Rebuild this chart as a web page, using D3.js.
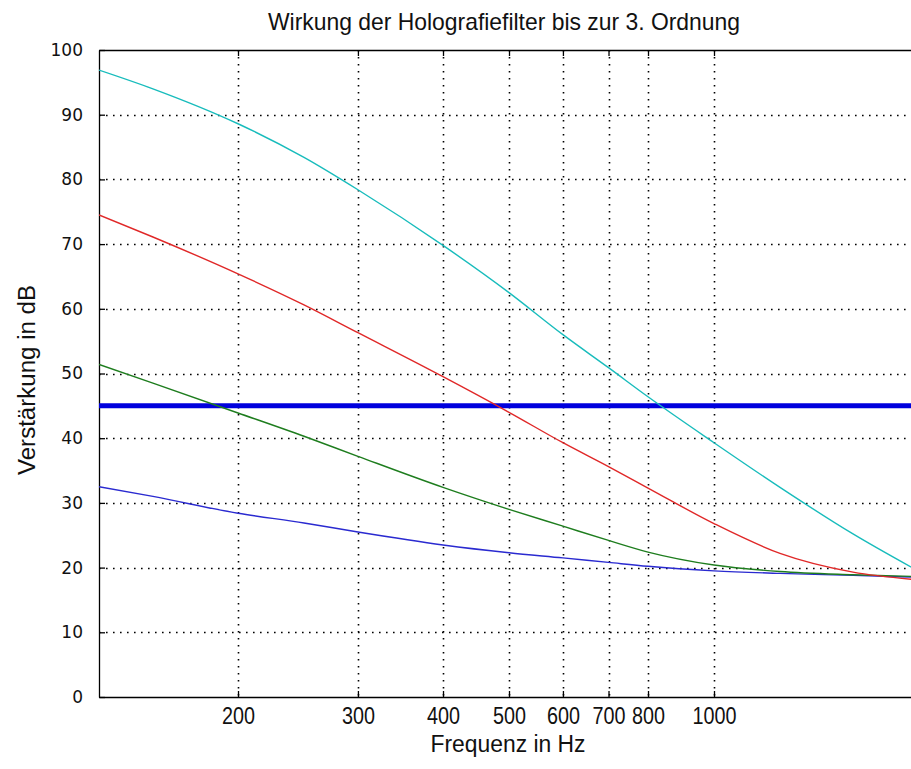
<!DOCTYPE html>
<html><head><meta charset="utf-8">
<script src="https://cdn.jsdelivr.net/npm/d3@7"></script>
<style>body{margin:0;background:#fff}</style>
</head><body>
<svg id="chart" width="911" height="769"></svg>
<script>
const titleText = "Wirkung der Holografiefilter bis zur 3. Ordnung";
const xLabel = "Frequenz in Hz";
const yLabel = "Verstärkung in dB";
const freqs = [125, 150, 200, 250, 300, 400, 500, 600, 700, 800, 1000, 1250, 1600, 2000];
const cyanVals  = [96.9, 94.0, 88.6, 83.4, 78.4, 69.8, 62.5, 56.0, 50.9, 46.4, 39.3, 32.4, 25.2, 19.4];
const redVals   = [74.5, 71.1, 65.4, 60.6, 56.3, 49.5, 44.0, 39.3, 35.6, 32.3, 26.8, 22.2, 19.3, 18.1];
const greenVals = [51.4, 48.5, 43.9, 40.3, 37.2, 32.4, 29.0, 26.4, 24.2, 22.4, 20.4, 19.4, 18.9, 18.6];
const blueVals  = [32.5, 31.0, 28.4, 26.9, 25.5, 23.5, 22.3, 21.5, 20.8, 20.2, 19.5, 19.1, 18.8, 18.5];
const thresholdValue = 45;
const xTicks = [200, 300, 400, 500, 600, 700, 800, 1000, 2000];
const xTickLabels = ["200", "300", "400", "500", "600", "700", "800", "1000", "2000"];
const yTicks = [0, 10, 20, 30, 40, 50, 60, 70, 80, 90, 100];
const xDomain = [125, 2000];
const yDomain = [0, 100];

const svg = d3.select("#chart");
const pL = 99, pR = 919, pT = 50, pB = 697;
const x = d3.scaleLog().domain(xDomain).range([pL, pR]);
const y = d3.scaleLinear().domain(yDomain).range([pB, pT]);

svg.append("defs").append("clipPath").attr("id","clip")
  .append("rect").attr("x", pL).attr("y", pT).attr("width", pR-pL).attr("height", pB-pT);

// grid
const grid = svg.append("g").attr("stroke", "#000").attr("stroke-width", 1.6)
  .attr("stroke-dasharray", "1.6,5.4").attr("clip-path","url(#clip)");
xTicks.forEach(t => grid.append("line").attr("x1", Math.round(x(t))+0.5).attr("x2", Math.round(x(t))+0.5)
  .attr("y1", pT).attr("y2", pB));
yTicks.filter(t => t>0 && t<100).forEach(t => grid.append("line").attr("y1", Math.round(y(t))+0.5).attr("y2", Math.round(y(t))+0.5)
  .attr("x1", pL).attr("x2", pR));

// axes with inward ticks
const axB = d3.axisBottom(x).tickValues(xTicks).tickFormat((d,i)=>xTickLabels[i]).tickSizeInner(-6).tickSizeOuter(0).tickPadding(11);
const axT = d3.axisTop(x).tickValues(xTicks).tickFormat("").tickSizeInner(-6).tickSizeOuter(0);
const axL = d3.axisLeft(y).tickValues(yTicks).tickSizeInner(-6).tickSizeOuter(0).tickPadding(16);
const gB = svg.append("g").attr("transform", `translate(0,${pB})`).call(axB);
const gT = svg.append("g").attr("transform", `translate(0,${pT})`).call(axT);
const gL = svg.append("g").attr("transform", `translate(${pL},0)`).call(axL);
[gB,gT,gL].forEach(g => { g.selectAll("path.domain").attr("stroke","#000").attr("stroke-width",1.3);
  g.selectAll(".tick line").attr("stroke","#000").attr("stroke-width",1.3); });
gB.selectAll(".tick text").attr("font-family","Liberation Sans, Arial, sans-serif").attr("font-size",23)
  .attr("fill","#111").attr("transform","scale(0.86,1)");
gB.selectAll(".tick").filter(d => d===2000).remove();
gL.selectAll(".tick text").attr("font-family","DejaVu Sans, Verdana, sans-serif").attr("font-size",17).attr("fill","#111");

// lines
const line = d3.line().x(d=>x(d[0])).y(d=>y(d[1])).curve(d3.curveMonotoneX);
const plot = svg.append("g").attr("clip-path","url(#clip)");
plot.append("line").attr("x1", x(xDomain[0])).attr("x2", x(xDomain[1]))
  .attr("y1", y(thresholdValue)).attr("y2", y(thresholdValue))
  .attr("stroke","#0000dd").attr("stroke-width",5);
const series = [[blueVals,"#2a2ad0"],[greenVals,"#1e7d1e"],[redVals,"#e02828"],[cyanVals,"#18bcbc"]];
series.forEach(([vals,col]) => plot.append("path").datum(freqs.map((f,i)=>[f,vals[i]]))
  .attr("d", line).attr("fill","none").attr("stroke",col).attr("stroke-width",1.4));

// labels
svg.append("text").attr("x", 504).attr("y", 30).attr("text-anchor","middle")
  .attr("font-family","Liberation Sans, Arial, sans-serif").attr("font-size",24).attr("fill","#111")
  .attr("textLength",472).attr("lengthAdjust","spacingAndGlyphs").text(titleText);
svg.append("text").attr("x", 508).attr("y", 752).attr("text-anchor","middle")
  .attr("font-family","Liberation Sans, Arial, sans-serif").attr("font-size",23).attr("fill","#111")
  .attr("textLength",155).attr("lengthAdjust","spacingAndGlyphs").text(xLabel);
svg.append("text").attr("transform","translate(35,380) rotate(-90)").attr("text-anchor","middle")
  .attr("font-family","Liberation Sans, Arial, sans-serif").attr("font-size",23).attr("fill","#111")
  .attr("textLength",190).attr("lengthAdjust","spacingAndGlyphs").text(yLabel);
</script>
</body></html>
